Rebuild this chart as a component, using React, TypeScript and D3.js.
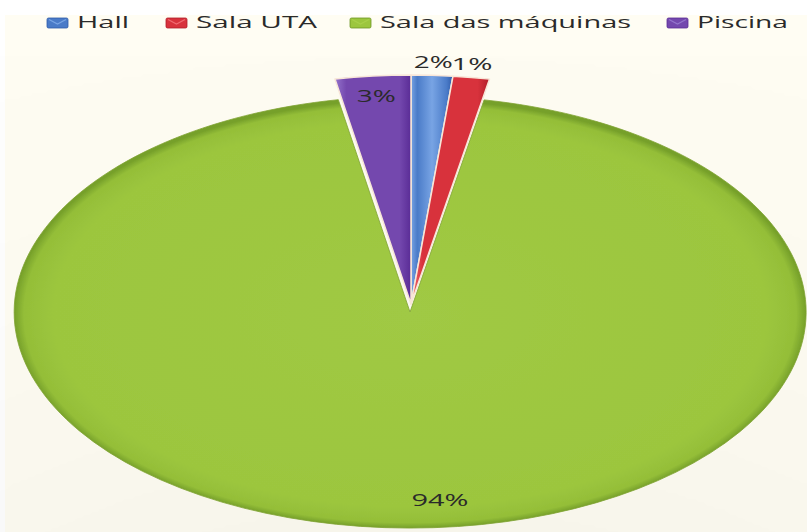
import React, { useEffect, useRef } from 'react';
import * as d3 from 'd3';

const categories = ['Hall', 'Sala UTA', 'Sala das máquinas', 'Piscina'];
const values = [1.6, 1.4, 94.1, 2.9];
const valueLabels = ['2%', '1%', '94%', '3%'];
const colors = ['#4a7bc8', '#d8323c', '#9cc63e', '#7448ae'];
const lightColors = ['#78a4e4', '#f06a70', '#a8d04a', '#9474cc'];
const darkColors = ['#2e5aa8', '#b01c28', '#6d9424', '#5a2c96'];

export default function App() {
  const svgRef = useRef<SVGSVGElement>(null);

  useEffect(() => {
    if (!svgRef.current) return;
    const svg = d3.select(svgRef.current);
    svg.selectAll('*').remove();

    const width = 807;
    const height = 532;
    svg.attr('width', width).attr('height', height);

    // fond creme
    svg.append('rect').attr('width', width).attr('height', height).attr('fill', '#ffffff');
    svg.append('rect').attr('x', 5).attr('y', 15).attr('width', width - 5).attr('height', height - 15).attr('fill', '#fffdf3');

    const defs = svg.append('defs');
    const shadow = defs.append('filter').attr('id', 'shadow').attr('x', '-10%').attr('y', '-10%').attr('width', '120%').attr('height', '125%');
    shadow.append('feDropShadow').attr('dx', 0).attr('dy', 3).attr('stdDeviation', 2).attr('flood-color', '#000').attr('flood-opacity', 0.3);

    const rg = defs.append('radialGradient').attr('id', 'g-green').attr('cx', '50%').attr('cy', '50%').attr('r', '50%');
    [[0, '#a0c944'], [0.9, '#9cc63e'], [0.975, '#94be38'], [1, '#76a02a']].forEach(([o, c]) =>
      rg.append('stop').attr('offset', o as number).attr('stop-color', c as string));

    colors.forEach((c, i) => {
      const lg = defs.append('linearGradient').attr('id', `g-${i}`).attr('x1', 0).attr('x2', 1).attr('y1', 0).attr('y2', 0);
      lg.append('stop').attr('offset', 0).attr('stop-color', lightColors[i]);
      lg.append('stop').attr('offset', 0.15).attr('stop-color', c);
      lg.append('stop').attr('offset', 0.5).attr('stop-color', i === 0 ? lightColors[i] : c);
      lg.append('stop').attr('offset', 0.85).attr('stop-color', c);
      lg.append('stop').attr('offset', 1).attr('stop-color', darkColors[i]);
    });

    const pie = d3.pie<number>().sort(null).value(d => d);
    const arcs = pie(values);
    const arc = d3.arc<d3.PieArcDatum<number>>().innerRadius(0).outerRadius(1);

    // ellipse principale (verte) et tranches detachees
    const main = { cx: 410, cy: 312, rx: 396, ry: 216 };
    const expl = { cx: 411, cy: 304, rx: 420, ry: 229 };

    const big = 2;
    const gMain = svg.append('g')
      .attr('transform', `translate(${main.cx},${main.cy}) scale(${main.rx},${main.ry})`)
      .attr('filter', 'url(#shadow)');
    gMain.append('path')
      .attr('d', arc(arcs[big]) as string)
      .attr('fill', 'url(#g-green)')
      .attr('stroke', '#7fa232')
      .attr('stroke-width', 0.8)
      .attr('vector-effect', 'non-scaling-stroke');

    const gExpl = svg.append('g')
      .attr('transform', `translate(${expl.cx},${expl.cy}) scale(${expl.rx},${expl.ry})`);
    gExpl.selectAll('path')
      .data(arcs.filter((_, i) => i !== big))
      .enter().append('path')
      .attr('d', d => arc(d) as string)
      .attr('fill', d => `url(#g-${d.index})`)
      .attr('stroke', '#f8e6d8')
      .attr('stroke-width', 1.5)
      .attr('stroke-linejoin', 'round')
      .attr('vector-effect', 'non-scaling-stroke');

    // etiquettes
    const labelCfg = [
      { r: 1.06, w: 39, dx: 0, dy: 6 },
      { r: 1.06, w: 41, dx: -3, dy: 6 },
      { r: 0.87, w: 57, dx: 31, dy: 6 },
      { r: 0.91, w: 39, dx: 0, dy: 6 },
    ];
    arcs.forEach((d, i) => {
      const e = i === big ? main : expl;
      const mid = (d.startAngle + d.endAngle) / 2;
      const cfg = labelCfg[i];
      const x = e.cx + Math.sin(mid) * e.rx * cfg.r + cfg.dx;
      const y = e.cy - Math.cos(mid) * e.ry * cfg.r + cfg.dy;
      svg.append('text')
        .attr('x', x - cfg.w / 2)
        .attr('y', y)
        .attr('textLength', cfg.w)
        .attr('lengthAdjust', 'spacingAndGlyphs')
        .style('font-family', '"Open Sans", Lato, sans-serif')
        .style('font-size', '17px')
        .attr('fill', '#2a2a2a')
        .text(valueLabels[i]);
    });

    // legende
    const legendX = [47, 166, 350, 667];
    const legendTextW = [52, 121, 251, 91];
    const legend = svg.append('g');
    categories.forEach((c, i) => {
      legend.append('rect')
        .attr('x', legendX[i]).attr('y', 18).attr('width', 21).attr('height', 10)
        .attr('rx', 1.5)
        .attr('fill', colors[i])
        .attr('stroke', darkColors[i]).attr('stroke-width', 0.8);
      legend.append('path')
        .attr('d', `M${legendX[i] + 2},${19.5} L${legendX[i] + 10.5},${24} L${legendX[i] + 19},${19.5}`)
        .attr('fill', 'none').attr('stroke', lightColors[i]).attr('stroke-width', 1.2);
      legend.append('text')
        .attr('x', legendX[i] + 30)
        .attr('y', 28)
        .attr('textLength', legendTextW[i])
        .attr('lengthAdjust', 'spacingAndGlyphs')
        .style('font-family', '"Open Sans", Lato, sans-serif')
        .style('font-size', '17px')
        .attr('fill', '#2a2a2a')
        .text(c);
    });
  }, []);

  return (
    <div style={{ position: 'absolute', left: 0, top: 0 }}>
      <svg ref={svgRef} style={{ display: 'block' }}></svg>
    </div>
  );
}
